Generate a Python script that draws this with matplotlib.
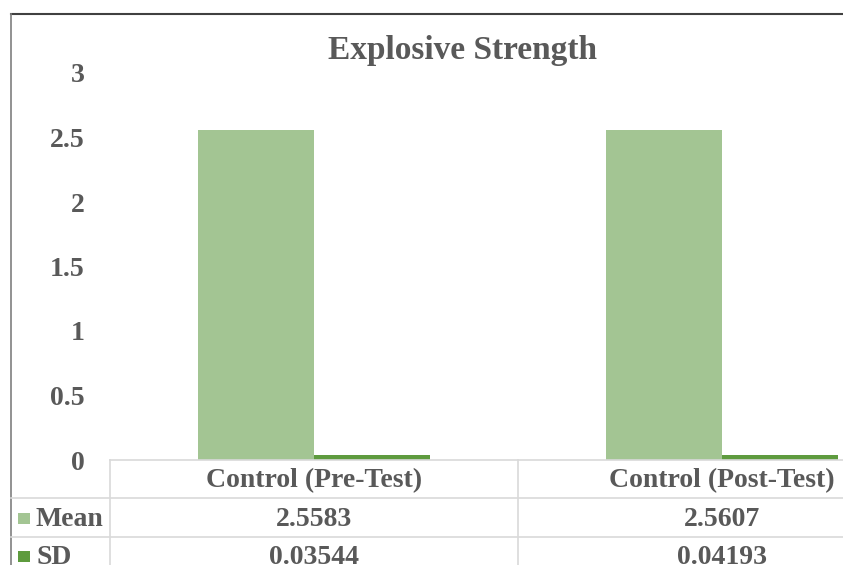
import matplotlib
matplotlib.use("Agg")
import matplotlib.pyplot as plt
from matplotlib.transforms import blended_transform_factory
from matplotlib.lines import Line2D
from matplotlib.patches import Rectangle

# Data
categories = ["Control (Pre-Test)", "Control (Post-Test)"]
series_names = ["Mean", "SD"]
mean_values = [2.5583, 2.5607]
sd_values = [0.03544, 0.04193]
mean_labels = ["2.5583", "2.5607"]
sd_labels = ["0.03544", "0.04193"]
y_ticks = [0, 0.5, 1, 1.5, 2, 2.5, 3]
y_tick_labels = ["0", "0.5", "1", "1.5", "2", "2.5", "3"]

# Style
mean_color = "#A3C593"
sd_color = "#5E9B3E"
text_color = "#595959"
grid_color = "#D9D9D9"
font = "Liberation Serif"
fs = 20

W, H = 843, 565
fig = plt.figure(figsize=(W / 100, H / 100), dpi=100)

def fx(px):
    return px / W

def fy(py):
    return 1 - py / H

ax = fig.add_axes([fx(110), fy(460), fx(926) - fx(110), fy(73) - fy(460)])
ax.set_xlim(-0.5, 1.5)
ax.set_ylim(0, 3)

bar_w = 0.285
x = list(range(len(categories)))
ax.bar([i - bar_w / 2 for i in x], mean_values, width=bar_w, color=mean_color, clip_on=False)
ax.bar([i + bar_w / 2 for i in x], sd_values, width=bar_w, color=sd_color, clip_on=False)

for s in ax.spines.values():
    s.set_visible(False)
ax.set_xticks([])
ax.set_yticks(y_ticks)
ax.set_yticklabels(y_tick_labels, fontfamily=font, fontweight="bold", fontsize=fs, color=text_color)
ax.tick_params(axis="y", length=0, pad=18)

# Title
fig.text(fx(462), fy(50), "Explosive Strength", ha="center", va="center",
         fontfamily=font, fontweight="bold", fontsize=24, color=text_color)

# Outer chart frame (top and left edges)
fig.add_artist(Line2D([fx(11), 1.0], [fy(14), fy(14)], color="#404040", lw=1.5))
fig.add_artist(Line2D([fx(11), fx(11)], [fy(14), 0], color="#7F7F7F", lw=1.2))

# Data table
tr = blended_transform_factory(ax.transData, fig.transFigure)
row_lines = [460, 498, 537]
for k, yl in enumerate(row_lines):
    x0 = fx(110) if k == 0 else fx(11)
    fig.add_artist(Line2D([x0, 1.0], [fy(yl), fy(yl)], color=grid_color, lw=1.2))
for xb in [-0.5, 0.5]:
    ax.add_line(Line2D([xb, xb], [fy(460), 0], transform=tr, color=grid_color, lw=1.2, clip_on=False))

row_centers = [481, 520, 558]
for i, cat in enumerate(categories):
    ax.text(i, fy(row_centers[0]), cat, transform=tr, ha="center", va="center",
            fontfamily=font, fontweight="bold", fontsize=fs, color=text_color, clip_on=False)
    ax.text(i, fy(row_centers[1]), mean_labels[i], transform=tr, ha="center", va="center",
            fontfamily=font, fontweight="bold", fontsize=fs, color=text_color, clip_on=False)
    ax.text(i, fy(row_centers[2]), sd_labels[i], transform=tr, ha="center", va="center",
            fontfamily=font, fontweight="bold", fontsize=fs, color=text_color, clip_on=False)

for name, col, yc in zip(series_names, [mean_color, sd_color], row_centers[1:]):
    fig.add_artist(Rectangle((fx(18), fy(yc + 4)), fx(12), fy(yc - 7) - fy(yc + 4),
                             facecolor=col, edgecolor="none"))
    fig.text(fx(36), fy(yc), name, ha="left", va="center",
             fontfamily=font, fontweight="bold", fontsize=fs, color=text_color)

fig.savefig("out.png", dpi=100)
